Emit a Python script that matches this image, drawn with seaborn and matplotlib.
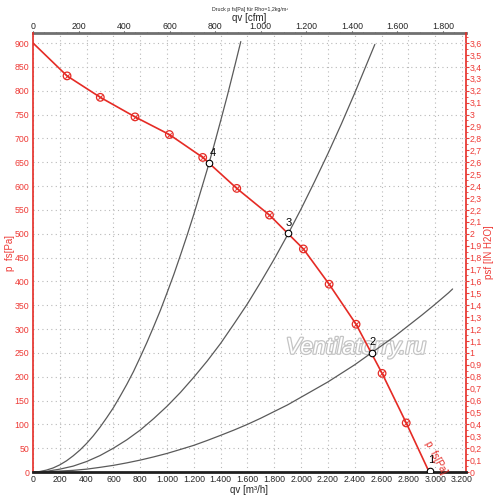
import matplotlib
matplotlib.use('Agg')
import matplotlib.pyplot as plt
import matplotlib.patheffects as pe
from matplotlib.ticker import MultipleLocator, FuncFormatter
import seaborn as sns

# ---- data ----
fan_q = [0, 254, 502, 761, 1017, 1266, 1520, 1764, 2017, 2209, 2410, 2604, 2784, 2955]
fan_p = [900, 831, 786, 745, 708, 660, 595, 539, 468, 394, 310, 207, 103, 0]

sys4_q = [0, 50, 100, 150, 200, 250, 300, 350, 400, 450, 500, 550, 600, 650, 700, 750, 800,
          850, 900, 950, 1000, 1050, 1100, 1150, 1200, 1250, 1300, 1350, 1400, 1450, 1500, 1550]
sys4_p = [0, 1, 4, 8.5, 15, 23.5, 34, 46, 60, 76, 94, 114, 135, 159, 184, 211, 241,
          272, 305, 339, 376, 414, 455, 497, 541, 588, 635, 685, 737, 790, 846, 903]

sys3_q = [0, 100, 200, 300, 400, 500, 600, 700, 800, 900, 1000, 1100, 1200, 1300, 1400, 1500,
          1600, 1700, 1800, 1900, 2000, 2100, 2200, 2300, 2400, 2500, 2550]
sys3_p = [0, 1.4, 6, 12.4, 22, 34.5, 50, 67.6, 88, 112, 138, 167, 199, 233, 270, 311,
          353, 399, 447, 498, 552, 609, 668, 730, 795, 863, 897]

sys2_q = [0, 100, 200, 300, 400, 500, 600, 700, 800, 900, 1000, 1100, 1200, 1300, 1400, 1500,
          1600, 1700, 1800, 1900, 2000, 2100, 2200, 2300, 2400, 2500, 2600, 2700, 2800, 2900,
          3000, 3100, 3130]
sys2_p = [0, 0.4, 2, 3.5, 6, 9.8, 14, 19.2, 25, 31.7, 39, 47.4, 56, 66.2, 77, 88.1,
          100, 113, 127, 141, 157, 173, 189, 207, 225, 245, 265, 285, 307, 329,
          352, 376, 384]

op_q = [2965, 2527, 1905, 1313]
op_p = [3, 250, 501, 648]
op_labels = ["1", "2", "3", "4"]

RED = '#e52b25'
LRED = '#ee3a36'

sns.set_style('white')
plt.rcParams['font.family'] = ['Liberation Sans', 'DejaVu Sans']

fig = plt.figure(figsize=(5.0, 5.03), dpi=100)
ax = fig.add_axes([0.066, 0.0616, 0.866, 0.8728])
ax.set_xlim(0, 3230)
ax.set_ylim(0, 921)

# grid
ax.xaxis.set_major_locator(MultipleLocator(200))
ax.xaxis.set_minor_locator(MultipleLocator(50))
ax.yaxis.set_major_locator(MultipleLocator(50))
ax.yaxis.set_minor_locator(MultipleLocator(10))
ax.grid(True, which='major', linestyle=(0, (1, 3)), color='#b8b8b8', linewidth=0.8)
ax.set_axisbelow(True)

# watermark
ax.text(2409, 262, 'Ventilatorry.ru', fontsize=16.5, style='italic', color='white',
        ha='center', va='center', zorder=1.5,
        path_effects=[pe.withStroke(linewidth=1.8, foreground='#c4c4c4')])

# system curves
for q, p in [(sys4_q, sys4_p), (sys3_q, sys3_p), (sys2_q, sys2_p)]:
    sns.lineplot(x=q, y=p, ax=ax, color='#5a5a5a', linewidth=0.9, zorder=2,
                 sort=False, estimator=None)

# fan curve
sns.lineplot(x=fan_q, y=fan_p, ax=ax, color=RED, linewidth=1.2, zorder=3,
             sort=False, estimator=None)
mq = fan_q[1:-1]
mp = fan_p[1:-1]
ax.scatter(mq, mp, s=30, facecolors='none', edgecolors=RED, linewidths=0.9, zorder=4)
ax.scatter(mq, mp, s=10, marker='x', color=RED, linewidths=0.7, zorder=4)

# operating points
sns.scatterplot(x=op_q, y=op_p, ax=ax, s=22, facecolor='white', edgecolor='black',
                linewidth=0.8, zorder=5)
for q, p, lab in zip(op_q, op_p, op_labels):
    ax.annotate(lab, (q, p), xytext=(0.5, 4), textcoords='offset points',
                fontsize=8, ha='left' if lab == '4' else 'center', va='bottom',
                color='black', zorder=6)

ax.text(3005, 30, 'p  fs[Pa]', color=RED, fontsize=7, rotation=-62,
        ha='center', va='center', zorder=6)

# formatting
def thousands(v, pos):
    return f"{int(round(v)):,}".replace(',', '.')

def comma(v, pos):
    return f"{round(v, 1):g}".replace('.', ',')

ax.xaxis.set_major_formatter(FuncFormatter(thousands))
ax.tick_params(axis='x', which='major', labelsize=6.3, length=1.5, color='black', pad=1)
ax.tick_params(axis='x', which='minor', length=1, color='black')
ax.tick_params(axis='y', which='major', labelsize=6.3, length=2, colors=LRED, pad=0.6)
ax.tick_params(axis='y', which='minor', length=1.2, colors=LRED)
ax.set_xlabel('qv [m³/h]', fontsize=7)
ax.xaxis.set_label_coords(0.5, -0.041)
ax.xaxis.label.set_va('center')
ax.set_ylabel('p  fs[Pa]', fontsize=7, color=LRED)
ax.yaxis.set_label_coords(-0.053, 0.5)
ax.yaxis.label.set_va('center')

ax.spines['left'].set_color(RED)
ax.spines['left'].set_linewidth(1.2)
ax.spines['bottom'].set_color('#202020')
ax.spines['bottom'].set_linewidth(2)
ax.spines['top'].set_visible(False)
ax.spines['right'].set_visible(False)

# top cfm axis
top = ax.secondary_xaxis('top', functions=(lambda m: m / 1.699, lambda c: c * 1.699))
top.xaxis.set_major_locator(MultipleLocator(200))
top.xaxis.set_minor_locator(MultipleLocator(50))
top.xaxis.set_major_formatter(FuncFormatter(thousands))
top.tick_params(axis='x', which='major', labelsize=6.3, length=1.2, pad=0.2)
top.tick_params(axis='x', which='minor', length=0.8)
top.spines['top'].set_color('#707070')
top.spines['top'].set_linewidth(2)
top.set_xlabel('qv [cfm]', fontsize=7, labelpad=0.8)

# right inH2O axis
right = ax.secondary_yaxis('right', functions=(lambda p: p / 250.0, lambda h: h * 250.0))
right.yaxis.set_major_locator(MultipleLocator(0.1))
right.yaxis.set_minor_locator(MultipleLocator(0.05))
right.yaxis.set_major_formatter(FuncFormatter(comma))
right.tick_params(axis='y', which='major', labelsize=6.3, length=2, colors=LRED, pad=0.4)
right.tick_params(axis='y', which='minor', length=1.2, colors=LRED)
right.spines['right'].set_color(RED)
right.spines['right'].set_linewidth(1.2)
right.set_ylabel('psf [IN H2O]', fontsize=7, color=LRED, labelpad=2)

fig.text(0.5, 0.982, 'Druck p fs[Pa] für Rho=1,2kg/m³', fontsize=3.8, ha='center', va='center')

fig.savefig('out.png', dpi=100)
